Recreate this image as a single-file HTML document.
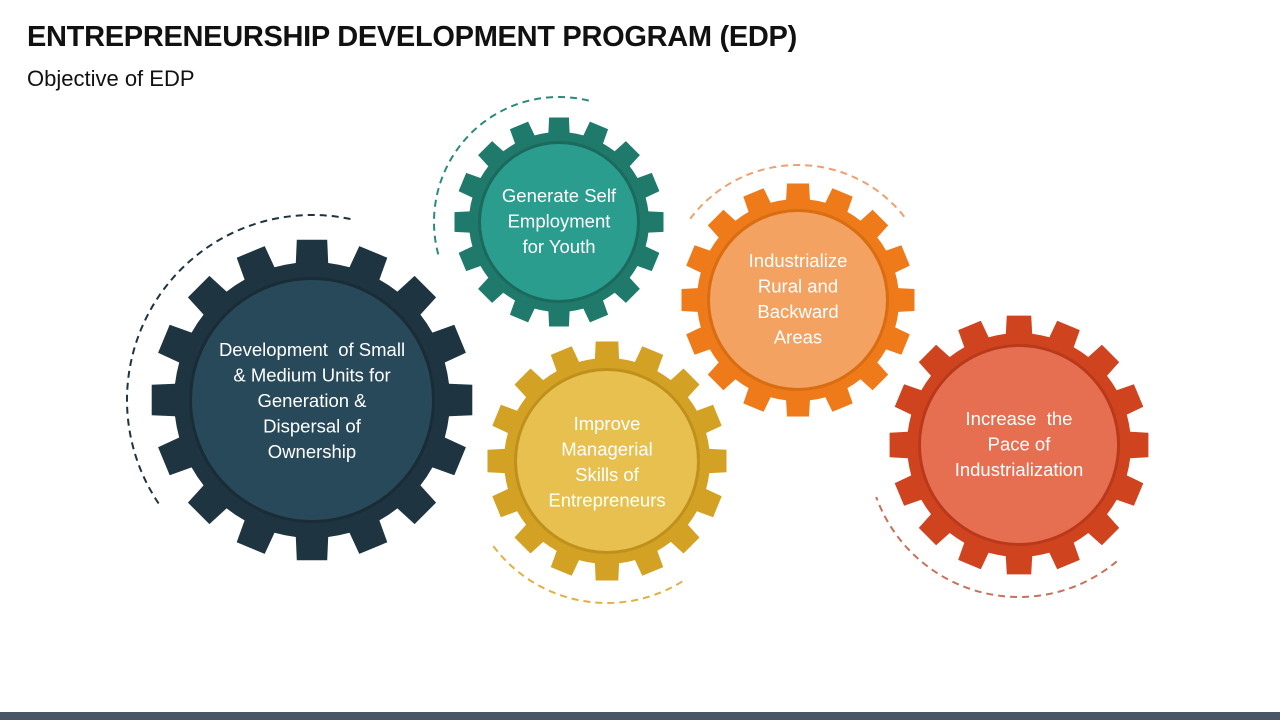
<!DOCTYPE html>
<html><head><meta charset="utf-8"><style>
html,body{margin:0;padding:0;background:#fff;}
#w{position:relative;width:1280px;height:720px;overflow:hidden;font-family:"Liberation Sans",sans-serif;}
h1{position:absolute;left:27px;top:21px;margin:0;font-size:29px;font-weight:bold;color:#111;letter-spacing:-0.3px;}
.sub{position:absolute;left:27px;top:66px;font-size:22px;color:#111;}
.bar{position:absolute;left:0;top:712px;width:1280px;height:8px;background:#4a5565;}
svg{position:absolute;left:0;top:0;}
.t{font-family:"Liberation Sans",sans-serif;font-size:18.5px;fill:#fff;text-anchor:middle;}
</style></head><body><div id="w">
<h1>ENTREPRENEURSHIP DEVELOPMENT PROGRAM (EDP)</h1>
<div class="sub">Objective of EDP</div>
<svg id="s" width="1280" height="720" viewBox="0 0 1280 720"></svg>
<div class="bar"></div>
</div>
<script>
var s=document.getElementById('s');var out='';
function gear(cx,cy,R,r,cr,n,tc,cc,edge){
 var p=2*Math.PI/n,d='';
 for(var i=0;i<n;i++){var a=i*p-Math.PI/2;
  var pts=[[r,a-0.5*p],[r,a-0.3*p],[R,a-0.24*p],[R,a+0.24*p],[r,a+0.3*p]];
  pts.forEach(function(q,j){var x=cx+q[0]*Math.cos(q[1]),y=cy+q[0]*Math.sin(q[1]);d+=(i==0&&j==0?'M':'L')+x.toFixed(1)+' '+y.toFixed(1)+' ';});}
 d+='Z';
 out+='<path d="'+d+'" fill="'+tc+'"/>';
 out+='<circle cx="'+cx+'" cy="'+cy+'" r="'+(cr+3)+'" fill="'+edge+'"/>';
 out+='<circle cx="'+cx+'" cy="'+cy+'" r="'+cr+'" fill="'+cc+'"/>';
}
function arc(cx,cy,r,a1,a2,c){
 var x1=cx+r*Math.cos(a1*Math.PI/180),y1=cy+r*Math.sin(a1*Math.PI/180),x2=cx+r*Math.cos(a2*Math.PI/180),y2=cy+r*Math.sin(a2*Math.PI/180);
 var large=((a2-a1+360)%360)>180?1:0;
 out+='<path d="M'+x1+' '+y1+' A'+r+' '+r+' 0 '+large+' 1 '+x2+' '+y2+'" fill="none" stroke="'+c+'" stroke-width="2" stroke-dasharray="7 5"/>';
}
function txt(cx,y0,lines){lines.forEach(function(l,i){out+='<text class="t" x="'+cx+'" y="'+(y0+i*25.5)+'">'+l+'</text>';});}
arc(312,400,185,146,282,'#1e3440');
arc(559,222,125,165,285,'#2a8a7c');
arc(798,300,135,217,323,'#f0a070');
arc(607,461,142,58,145,'#e0b040');
arc(1019,445,152,50,160,'#c8705a');
gear(312,400,161,138,120,16,'#1e3440','#27495a','#1a2d37');
gear(559,222,105,90,78,16,'#1f7a6c','#2a9d8f','#1b6a5e');
gear(798,300,117,101,88,16,'#ee7a1a','#f3a261','#d96d12');
gear(607,461,120,103,90,16,'#d3a224','#e7c04f','#bf911c');
gear(1019,445,130,112,98,16,'#d0431f','#e76f51','#b93a1a');
txt(312,356,['Development&#160; of Small','&amp; Medium Units for','Generation &amp;','Dispersal of','Ownership']);
txt(559,202,['Generate Self','Employment','for Youth']);
txt(798,267,['Industrialize','Rural and','Backward','Areas']);
txt(607,430,['Improve','Managerial','Skills of','Entrepreneurs']);
txt(1019,425,['Increase&#160; the','Pace of','Industrialization']);
s.innerHTML=out;
</script>
</body></html>
